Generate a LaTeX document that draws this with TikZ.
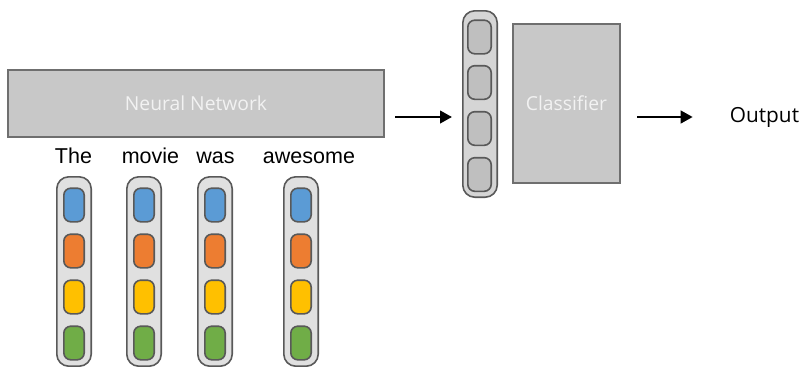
\documentclass[tikz,border=0pt]{standalone}
\usepackage{fontspec}
\setmainfont{Liberation Sans}
\newfontfamily\labelfont{Open Sans}
\usetikzlibrary{positioning,arrows.meta}

\definecolor{vecblue}{HTML}{5B9BD5}
\definecolor{vecorange}{HTML}{ED7D31}
\definecolor{vecyellow}{HTML}{FFC000}
\definecolor{vecgreen}{HTML}{70AD47}
\definecolor{boxgray}{HTML}{C8C8C8}
\definecolor{boxedge}{HTML}{6F6F6F}
\definecolor{celledge}{HTML}{595959}
\definecolor{barfill}{HTML}{E0E0E0}
\definecolor{ctxfill}{HTML}{BFBFBF}

\tikzset{
  block/.style={draw=boxedge, line width=2.2pt, fill=boxgray, text=white!95!black,
    inner sep=0pt, font=\labelfont\fontsize{19.3}{22}\selectfont},
  vecbar/.style={draw=celledge, line width=1.6pt, fill=barfill, rounded corners=12pt,
    minimum width=34.4pt, inner sep=0pt},
  cell/.style={draw=celledge, line width=1.6pt, rounded corners=7pt,
    minimum height=33.6pt, inner sep=0pt},
  word/.style={font=\fontsize{21.5}{25}\selectfont, anchor=base, inner sep=0pt},
  arr/.style={line width=2.6pt, -{Triangle[length=12pt,width=12.5pt]}}
}

\begin{document}
\begin{tikzpicture}[x=1pt,y=-1pt]
    \useasboundingbox (0,0) rectangle (804,367);

    % encoder block and the sentence
    \node[block, minimum width=376pt, minimum height=67pt] (nn) at (196,103.5) {Neural Network};

    \node[word] (w1) at (73.5,163) {The};
    \node[word] (w2) at (150.5,163) {movie};
    \node[word] (w3) at (215.5,163) {was};
    \node[word] (w4) at (309,163) {awesome};

    % one embedding per word
    \foreach \i/\x in {1/74, 2/144, 3/215, 4/301} {
        \node[vecbar, minimum height=189.4pt] (emb\i) at (\x,271.5) {};
        \foreach \j/\y/\c in {1/205/vecblue, 2/251/vecorange, 3/297/vecyellow, 4/343/vecgreen}
            \node[cell, fill=\c, minimum width=20.4pt] (emb\i-\j) at (\x,\y) {};
    }

    % sentence vector
    \node[vecbar, fill=barfill!95!black, minimum height=186.4pt] (ctx) at (480,104) {};
    \foreach \j/\y in {1/37, 2/82.5, 3/128.5, 4/174.5}
        \node[cell, fill=ctxfill, minimum width=23.4pt] (ctx-\j) at (479.5,\y) {};

    \node[block, minimum width=107pt, minimum height=159pt] (cls) at (566.5,103.5) {Classifier};

    \node[font=\labelfont\fontsize{20.8}{24}\selectfont, inner sep=0pt] (out) at (764.5,117) {Output};

    \draw[arr] ([xshift=10pt]nn.east |- out.west) -- ([xshift=-10pt]ctx.west |- out.west);
    \draw[arr] ([xshift=16pt]cls.east |- out.west) -- ([xshift=-37pt]out.west);
\end{tikzpicture}
\end{document}
